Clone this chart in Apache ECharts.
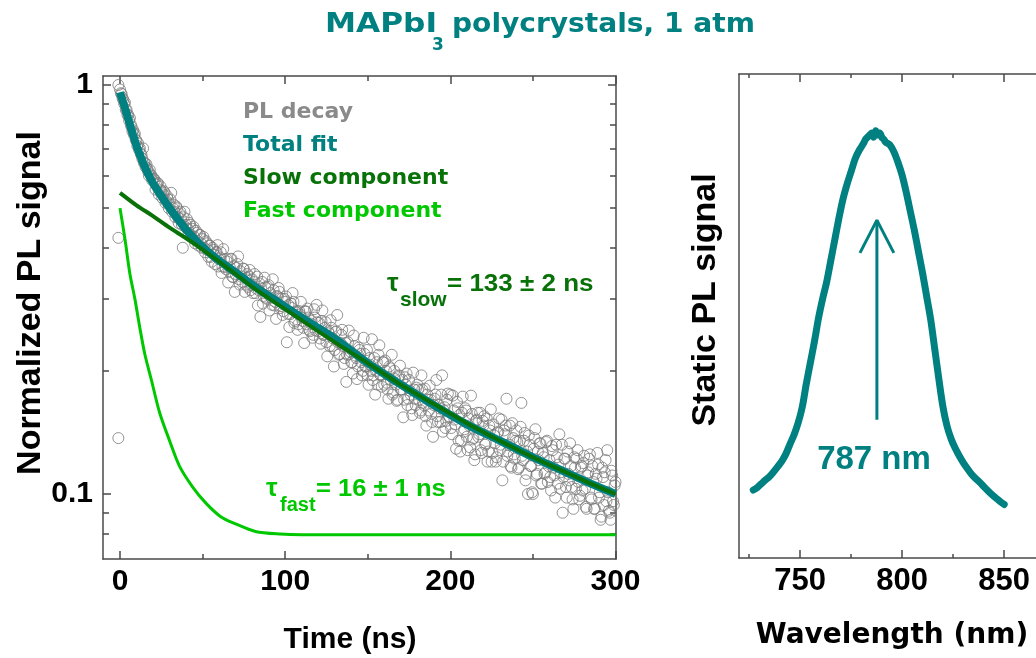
<!DOCTYPE html>
<html><head><meta charset="utf-8">
<script src="https://cdn.jsdelivr.net/npm/echarts@6/dist/echarts.min.js"></script>
<style>html,body{margin:0;padding:0;background:#fff}#chart{width:1036px;height:658px}</style>
</head><body><div id="chart"></div>
<script>
// ---------- data ----------
// PL decay, first sweep of points (integer ns)
const timeNs = [-1,-1,-1,
0,1,2,3,4,5,6,7,8,9,10,11,12,13,14,15,16,17,18,19,
20,21,22,23,24,25,26,27,28,29,30,31,32,33,34,35,36,37,38,39,
40,41,42,43,44,45,46,47,48,49,50,51,52,53,54,55,56,57,58,59,
60,61,62,63,64,65,66,67,68,69,70,71,72,73,74,75,76,77,78,79,
80,81,82,83,84,85,86,87,88,89,90,91,92,93,94,95,96,97,98,99,
100,101,102,103,104,105,106,107,108,109,110,111,112,113,114,115,116,117,118,119,
120,121,122,123,124,125,126,127,128,129,130,131,132,133,134,135,136,137,138,139,
140,141,142,143,144,145,146,147,148,149,150,151,152,153,154,155,156,157,158,159,
160,161,162,163,164,165,166,167,168,169,170,171,172,173,174,175,176,177,178,179,
180,181,182,183,184,185,186,187,188,189,190,191,192,193,194,195,196,197,198,199,
200,201,202,203,204,205,206,207,208,209,210,211,212,213,214,215,216,217,218,219,
220,221,222,223,224,225,226,227,228,229,230,231,232,233,234,235,236,237,238,239,
240,241,242,243,244,245,246,247,248,249,250,251,252,253,254,255,256,257,258,259,
260,261,262,263,264,265,266,267,268,269,270,271,272,273,274,275,276,277,278,279,
280,281,282,283,284,285,286,287,288,289,290,291,292,293,294,295,296,297,298,299,300];
const plSignal = [1.0,0.423,0.137,
.975,.95,.92,.905,.87,.845,.83,.79,.775,.76,.73,.72,.70,.675,.70,.645,.64,.615,.62,.60,
.59,.585,.57,.575,.555,.55,.54,.545,.52,.525,.51,.545,.50,.49,.505,.475,.485,.47,.40,.49,
.455,.445,.46,.43,.445,.425,.44,.415,.43,.41,.42,.40,.415,.395,.405,.38,.40,.385,.39,.406,
.375,.39,.36,.375,.355,.37,.35,.375,.34,.36,.345,.365,.335,.35,.33,.355,.325,.345,.34,.315,
.335,.33,.31,.34,.315,.271,.33,.305,.32,.30,.324,.31,.29,.315,.295,.305,.319,.285,.30,.28,
.295,.235,.29,.275,.285,.295,.265,.28,.26,.275,.27,.255,.28,.26,.27,.25,.265,.245,.27,.29,
.25,.24,.265,.245,.255,.235,.25,.23,.255,.24,.225,.25,.235,.22,.245,.23,.215,.188,.235,.22,
.21,.197,.23,.215,.205,.225,.21,.20,.22,.205,.195,.215,.20,.19,.215,.20,.185,.231,.195,.21,
.185,.20,.18,.205,.19,.175,.20,.185,.17,.195,.18,.19,.17,.185,.165,.19,.175,.156,.18,.165,
.185,.17,.16,.18,.165,.155,.175,.16,.17,.15,.165,.175,.155,.165,.15,.195,.16,.145,.17,.155,
.175,.14,.16,.148,.168,.135,.127,.158,.142,.162,.138,.153,.13,.157,.137,.125,.152,.138,.158,.126,
.147,.132,.153,.127,.143,.12,.148,.133,.123,.142,.128,.152,.12,.14,.171,.127,.147,.116,.137,.122,
.143,.115,.135,.167,.121,.141,.112,.10,.132,.117,.10,.137,.111,.127,.133,.106,.126,.112,.134,.107,
.121,.102,.128,.111,.132,.106,.14,.113,.09,.122,.104,.127,.108,.117,.097,.123,.103,.128,.097,.116,
.102,.124,.093,.111,.122,.098,.117,.092,.112,.126,.098,.0865,.116,.094,.121,.128,.091,.0865,.111,.094,.107];

// PL decay, second sweep of points (half ns)
const timeNsB = [
0.5,1.5,2.5,3.5,4.5,5.5,6.5,7.5,8.5,9.5,10.5,11.5,12.5,13.5,14.5,15.5,16.5,17.5,18.5,19.5,
20.5,21.5,22.5,23.5,24.5,25.5,26.5,27.5,28.5,29.5,30.5,31.5,32.5,33.5,34.5,35.5,36.5,37.5,38.5,39.5,
40.5,41.5,42.5,43.5,44.5,45.5,46.5,47.5,48.5,49.5,50.5,51.5,52.5,53.5,54.5,55.5,56.5,57.5,58.5,59.5,
60.5,61.5,62.5,63.5,64.5,65.5,66.5,67.5,68.5,69.5,70.5,71.5,72.5,73.5,74.5,75.5,76.5,77.5,78.5,79.5,
80.5,81.5,82.5,83.5,84.5,85.5,86.5,87.5,88.5,89.5,90.5,91.5,92.5,93.5,94.5,95.5,96.5,97.5,98.5,99.5,
100.5,101.5,102.5,103.5,104.5,105.5,106.5,107.5,108.5,109.5,110.5,111.5,112.5,113.5,114.5,115.5,116.5,117.5,118.5,119.5,
120.5,121.5,122.5,123.5,124.5,125.5,126.5,127.5,128.5,129.5,130.5,131.5,132.5,133.5,134.5,135.5,136.5,137.5,138.5,139.5,
140.5,141.5,142.5,143.5,144.5,145.5,146.5,147.5,148.5,149.5,150.5,151.5,152.5,153.5,154.5,155.5,156.5,157.5,158.5,159.5,
160.5,161.5,162.5,163.5,164.5,165.5,166.5,167.5,168.5,169.5,170.5,171.5,172.5,173.5,174.5,175.5,176.5,177.5,178.5,179.5,
180.5,181.5,182.5,183.5,184.5,185.5,186.5,187.5,188.5,189.5,190.5,191.5,192.5,193.5,194.5,195.5,196.5,197.5,198.5,199.5,
200.5,201.5,202.5,203.5,204.5,205.5,206.5,207.5,208.5,209.5,210.5,211.5,212.5,213.5,214.5,215.5,216.5,217.5,218.5,219.5,
220.5,221.5,222.5,223.5,224.5,225.5,226.5,227.5,228.5,229.5,230.5,231.5,232.5,233.5,234.5,235.5,236.5,237.5,238.5,239.5,
240.5,241.5,242.5,243.5,244.5,245.5,246.5,247.5,248.5,249.5,250.5,251.5,252.5,253.5,254.5,255.5,256.5,257.5,258.5,259.5,
260.5,261.5,262.5,263.5,264.5,265.5,266.5,267.5,268.5,269.5,270.5,271.5,272.5,273.5,274.5,275.5,276.5,277.5,278.5,279.5,
280.5,281.5,282.5,283.5,284.5,285.5,286.5,287.5,288.5,289.5,290.5,291.5,292.5,293.5,294.5,295.5,296.5,297.5,298.5,299.5];
const plSignalB = [
.955,.93,.90,.87,.845,.82,.80,.77,.755,.735,.71,.695,.68,.66,.645,.63,.625,.60,.605,.585,
.59,.555,.575,.54,.565,.53,.55,.515,.535,.50,.525,.49,.51,.475,.50,.46,.49,.455,.475,.45,
.47,.435,.455,.425,.45,.41,.435,.405,.43,.40,.425,.39,.41,.38,.405,.37,.395,.365,.39,.36,
.379,.347,.397,.359,.376,.329,.358,.376,.339,.312,.357,.381,.325,.340,.356,.312,.338,.321,.353,.324,
.310,.345,.318,.289,.327,.318,.292,.338,.302,.321,.281,.302,.335,.289,.268,.303,.312,.288,.274,.300,
.304,.276,.256,.292,.310,.262,.278,.252,.280,.295,.265,.234,.279,.284,.252,.261,.241,.283,.251,.263,
.262,.233,.281,.245,.263,.217,.247,.266,.230,.205,.249,.274,.219,.234,.252,.208,.234,.219,.251,.223,
.210,.244,.218,.191,.228,.220,.195,.241,.205,.225,.185,.207,.239,.195,.175,.210,.219,.196,.183,.210,
.212,.187,.171,.203,.219,.177,.191,.169,.193,.206,.180,.154,.193,.197,.171,.179,.162,.198,.171,.182,
.180,.158,.195,.167,.181,.147,.170,.184,.157,.138,.171,.190,.150,.162,.175,.142,.163,.151,.176,.154,
.145,.174,.152,.129,.162,.156,.135,.173,.144,.160,.128,.147,.174,.136,.121,.151,.158,.140,.128,.151,
.155,.133,.120,.147,.161,.126,.139,.120,.141,.153,.132,.108,.143,.147,.124,.132,.117,.149,.125,.135,
.134,.116,.146,.124,.135,.108,.127,.139,.117,.101,.129,.144,.112,.121,.133,.106,.123,.113,.135,.117,
.110,.131,.116,.098,.123,.118,.103,.132,.110,.122,.098,.112,.133,.104,.092,.116,.122,.107,.099,.117,
.119,.103,.092,.113,.125,.097,.107,.092,.109,.118,.101,.088,.110,.113,.096,.101,.090,.114,.096,.105];

// fitted curves
const fitTime  = [0,1,2,3,4,5,6,7,8,9,10,12,14,16,18,20,23,26,30,35,40,45,50,55,60,70,80,90,100,115,130,150,170,190,210,230,250,270,285,300];
const totalFit = [.96,.93,.905,.878,.852,.826,.80,.776,.753,.731,.71,.675,.645,.618,.595,.575,.55,.528,.50,.47,.443,.421,.402,.386,.372,.348,.325,.305,.287,.262,.240,.209,.185,.165,.148,.135,.123,.113,.106,.100];
const slowTime = [0,10,20,30,40,50,60,70,80,100,130,150,170,190,210,230,250,270,285,300];
const slowFit  = [.545,.508,.478,.448,.422,.396,.37,.345,.321,.283,.235,.209,.185,.166,.149,.135,.123,.113,.106,.100];
const fastTime = [0,3,6,9,12,15,19,24,30,36,44,52,61,70,82,97,110,150,200,250,300];
const fastFit  = [.50,.42,.345,.30,.255,.22,.19,.158,.135,.117,.104,.095,.088,.0845,.081,.0798,.0795,.0795,.0795,.0795,.0795];

// static PL spectrum
const wavelengthNm = [727,729,731,733,735,737,739,741,743,745,747,749,751,753,755,757,759,761,763,765,767,769,771,773,775,777,779,781,782,783,784,785,786,787,788,789,790,791,792,794,796,798,800,802,804,806,808,810,812,814,816,818,820,822,824,826,828,830,832,834,836,838,840,842,844,846,848,850];
const staticPL = [.160,.166,.175,.184,.192,.203,.215,.228,.245,.268,.29,.318,.355,.41,.46,.51,.565,.61,.65,.70,.75,.80,.845,.88,.91,.94,.96,.975,.985,.99,.995,1.0,.99,1.005,.995,1.0,.99,.985,.978,.972,.955,.93,.90,.86,.815,.77,.72,.67,.615,.56,.49,.42,.355,.31,.28,.258,.24,.224,.21,.197,.187,.178,.168,.158,.149,.141,.133,.126];

const peakArrowShaft = [[787.6, 0.325], [787.6, 0.795]];
const peakArrowHead  = [[779.3, 0.718], [787.6, 0.795], [795.9, 0.718]];

// ticks
const timeMajorTicks = [0, 100, 200, 300];
const timeMinorTicks = [50, 150, 250];
const signalMajorTicks = [0.1, 1];
const signalMajorLabels = ['0.1', '1'];
const signalMinorTicks = [0.08, 0.09, 0.2, 0.3, 0.4, 0.5, 0.6, 0.7, 0.8, 0.9];
const wlMajorTicks = [750, 800, 850];
const wlMinorTicks = [725, 775, 825];

// ---------- chart ----------
const TEAL = '#008080', SLOW = '#087208', FAST = '#00c800', GREY = '#8a8a8a', DOT = '#7b7b7b', AX = '#4a4a4a';
const SANS = '"Liberation Sans", Arial, sans-serif';
const WIDE = '"DejaVu Sans", Verdana, sans-serif';
const lg = v => Math.log10(v);

const chart = echarts.init(document.getElementById('chart'), null, {renderer: 'canvas'});

function axis(o) {
  const base = {
    type: 'value', gridIndex: o.grid, position: o.pos, min: o.min, max: o.max,
    splitLine: {show: false},
    axisLine: {show: o.line !== false, onZero: false, lineStyle: {color: AX, width: 1.5}},
    axisTick: o.ticks ? {show: true, inside: true, length: o.len, customValues: o.ticks, lineStyle: {color: AX, width: 1.5}} : {show: false},
    axisLabel: o.labels ? Object.assign({show: true, customValues: o.labels, color: '#000', fontFamily: SANS, fontWeight: 'bold', fontSize: 30, margin: o.margin || 8}, o.labelExtra || {}) : {show: false}
  };
  if (o.name) {
    base.name = o.name; base.nameLocation = 'middle'; base.nameGap = o.nameGap;
    base.nameTextStyle = Object.assign({color: '#000', fontWeight: 'bold', fontFamily: SANS, fontSize: 30}, o.nameStyle || {});
  }
  return base;
}

const yMinL = -1.1589, yMaxL = 0.022;
const majorLabelFmt = v => { const i = signalMajorTicks.findIndex(d => Math.abs(lg(d) - v) < 1e-6); return i >= 0 ? signalMajorLabels[i] : ''; };

const decayPoints = timeNs.map((t, i) => [t, lg(plSignal[i])])
  .concat(timeNsB.map((t, i) => [t, lg(plSignalB[i])]));

const option = {
  animation: false,
  backgroundColor: '#fff',
  grid: [
    {left: 103, top: 76, width: 513, height: 483, containLabel: false, outerBoundsMode: 'none'},
    {left: 739, top: 74, width: 306, height: 484, containLabel: false, outerBoundsMode: 'none'}
  ],
  xAxis: [
    axis({grid: 0, pos: 'bottom', min: -10.3, max: 300.3, ticks: timeMajorTicks, len: 8, labels: timeMajorTicks,
          name: 'Time (ns)', nameGap: 66, nameStyle: {fontSize: 30, padding: [0, 19, 0, 0]}}),
    axis({grid: 0, pos: 'bottom', min: -10.3, max: 300.3, ticks: timeMinorTicks, len: 5, line: false}),
    axis({grid: 0, pos: 'top', min: -10.3, max: 300.3, ticks: timeMajorTicks, len: 8}),
    axis({grid: 0, pos: 'top', min: -10.3, max: 300.3, ticks: timeMinorTicks, len: 5, line: false}),
    axis({grid: 1, pos: 'bottom', min: 720, max: 870, ticks: wlMajorTicks, len: 8, labels: wlMajorTicks, labelExtra: {fontSize: 31},
          name: 'Wavelength (nm)', nameGap: 64, nameStyle: {fontSize: 28, fontFamily: WIDE}}),
    axis({grid: 1, pos: 'bottom', min: 720, max: 870, ticks: wlMinorTicks, len: 4, line: false}),
    axis({grid: 1, pos: 'top', min: 720, max: 870, ticks: wlMajorTicks, len: 8}),
    axis({grid: 1, pos: 'top', min: 720, max: 870, ticks: wlMinorTicks, len: 4, line: false})
  ],
  yAxis: [
    axis({grid: 0, pos: 'left', min: yMinL, max: yMaxL, ticks: signalMajorTicks.map(lg), len: 8, labels: signalMajorTicks.map(lg),
          margin: 10, labelExtra: {formatter: majorLabelFmt},
          name: 'Normalized PL signal', nameGap: 52, nameStyle: {fontSize: 34, padding: [0, 0, 0, 29]}}),
    axis({grid: 0, pos: 'left', min: yMinL, max: yMaxL, ticks: signalMinorTicks.map(lg), len: 6, line: false}),
    axis({grid: 0, pos: 'right', min: yMinL, max: yMaxL, ticks: signalMajorTicks.map(lg), len: 8}),
    axis({grid: 0, pos: 'right', min: yMinL, max: yMaxL, ticks: signalMinorTicks.map(lg), len: 6, line: false}),
    axis({grid: 1, pos: 'left', min: 0, max: 1.1388, name: 'Static PL signal', nameGap: 16,
          nameStyle: {fontSize: 34, padding: [0, 0, 0, 32]}}),
    axis({grid: 1, pos: 'right', min: 0, max: 1.1388})
  ],
  legend: {
    orient: 'vertical', left: 237, top: 101, padding: 0, itemGap: 11, itemWidth: 0, itemHeight: 0,
    selectedMode: false, itemStyle: {opacity: 0}, lineStyle: {opacity: 0},
    textStyle: {fontFamily: WIDE, fontWeight: 'bold', fontSize: 22},
    data: [
      {name: 'PL decay', textStyle: {color: GREY}},
      {name: 'Total fit', textStyle: {color: TEAL}},
      {name: 'Slow component', textStyle: {color: SLOW}},
      {name: 'Fast component', textStyle: {color: FAST}}
    ]
  },
  series: [
    {name: 'PL decay', type: 'scatter', xAxisIndex: 0, yAxisIndex: 0, symbol: 'circle', symbolSize: 11,
     itemStyle: {color: 'rgba(255,255,255,0)', borderColor: DOT, borderWidth: 1}, z: 2,
     data: decayPoints},
    {name: 'Total fit', type: 'line', xAxisIndex: 0, yAxisIndex: 0, showSymbol: false, symbol: 'none', smooth: 0.3, z: 3,
     lineStyle: {color: TEAL, width: 8}, itemStyle: {color: TEAL},
     data: fitTime.map((t, i) => [t, lg(totalFit[i])])},
    {name: 'Slow component', type: 'line', xAxisIndex: 0, yAxisIndex: 0, showSymbol: false, symbol: 'none', smooth: 0.3, z: 4,
     lineStyle: {color: SLOW, width: 4}, itemStyle: {color: SLOW},
     data: slowTime.map((t, i) => [t, lg(slowFit[i])])},
    {name: 'Fast component', type: 'line', xAxisIndex: 0, yAxisIndex: 0, showSymbol: false, symbol: 'none', smooth: 0.3, z: 4,
     lineStyle: {color: FAST, width: 3}, itemStyle: {color: FAST},
     data: fastTime.map((t, i) => [t, lg(fastFit[i])])},
    {name: 'Static PL', type: 'line', xAxisIndex: 4, yAxisIndex: 4, showSymbol: false, symbol: 'none', smooth: 0.3,
     lineStyle: {color: TEAL, width: 7, cap: 'round', join: 'round'}, itemStyle: {color: TEAL},
     data: wavelengthNm.map((w, i) => [w, staticPL[i]])},
    {name: 'Peak arrow', type: 'line', xAxisIndex: 4, yAxisIndex: 4, showSymbol: false, symbol: 'none',
     lineStyle: {color: TEAL, width: 3}, data: peakArrowShaft},
    {name: 'Peak arrow head', type: 'line', xAxisIndex: 4, yAxisIndex: 4, showSymbol: false, symbol: 'none',
     lineStyle: {color: TEAL, width: 3}, data: peakArrowHead}
  ],
  graphic: [
    {type: 'text', x: 325, y: 25, scaleX: 1.20, style: {text: 'MAPbI', fill: TEAL, font: 'bold 26px "DejaVu Sans"', textAlign: 'left', textVerticalAlign: 'middle'}},
    {type: 'text', x: 432, y: 46, style: {text: '3', fill: TEAL, font: 'bold 17px "DejaVu Sans"', textAlign: 'left', textVerticalAlign: 'middle'}},
    {type: 'text', x: 452, y: 25, scaleX: 1.08, style: {text: 'polycrystals, 1 atm', fill: TEAL, font: 'bold 26px "DejaVu Sans"', textAlign: 'left', textVerticalAlign: 'middle'}},

    {type: 'text', x: 387, y: 284, style: {text: 'τ', fill: SLOW, font: 'bold 26px "Liberation Sans"', textAlign: 'left', textVerticalAlign: 'middle'}},
    {type: 'text', x: 400, y: 300, style: {text: 'slow', fill: SLOW, font: 'bold 21px "Liberation Sans"', textAlign: 'left', textVerticalAlign: 'middle'}},
    {type: 'text', x: 447, y: 285, scaleX: 1.13, style: {text: '= 133 ± 2 ns', fill: SLOW, font: 'bold 23px "Liberation Sans"', textAlign: 'left', textVerticalAlign: 'middle'}},

    {type: 'text', x: 266, y: 489, style: {text: 'τ', fill: FAST, font: 'bold 26px "Liberation Sans"', textAlign: 'left', textVerticalAlign: 'middle'}},
    {type: 'text', x: 280, y: 505, style: {text: 'fast', fill: FAST, font: 'bold 20px "Liberation Sans"', textAlign: 'left', textVerticalAlign: 'middle'}},
    {type: 'text', x: 316, y: 490, scaleX: 1.11, style: {text: '= 16 ± 1 ns', fill: FAST, font: 'bold 23px "Liberation Sans"', textAlign: 'left', textVerticalAlign: 'middle'}},

    {type: 'text', x: 874, y: 460, style: {text: '787 nm', fill: TEAL, font: 'bold 33px "Liberation Sans"', textAlign: 'center', textVerticalAlign: 'middle'}}
  ]
};
chart.setOption(option);
</script></body></html>
